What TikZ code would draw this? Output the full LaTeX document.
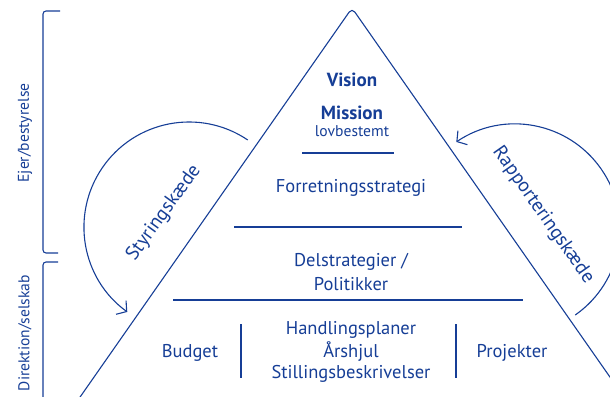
\documentclass[tikz,border=0pt]{standalone}
\usepackage{fontspec}
\setmainfont{PT Sans}
\usetikzlibrary{arrows.meta}
\definecolor{navy}{RGB}{22,62,150}
\tikzset{
  ln/.style={draw=navy, line width=1.1pt},
  txt/.style={text=navy, font=\fontsize{18.5}{20}\selectfont, inner sep=0pt},
  boldtxt/.style={text=navy, font=\fontsize{19}{21}\selectfont\bfseries, inner sep=0pt},
  sidetxt/.style={text=navy, font=\fontsize{15.6}{17}\selectfont, inner sep=0pt, rotate=90},
  arctxt/.style={text=navy, font=\fontsize{19.5}{21}\selectfont, inner sep=0pt},
  chaintip/.style={-{Straight Barb[length=7pt,width=17pt,line width=1.1pt]}}
}
\begin{document}
\begin{tikzpicture}[x=1pt,y=-1pt]
\useasboundingbox (0,0) rectangle (610,396);
\clip (0,0) rectangle (610,396);
% triangle
\coordinate (tl) at (78,400);
\coordinate (top) at (352,8);
\coordinate (tr) at (626,400);
\draw[ln, rounded corners=5pt] (tl) -- (top) -- (tr);
% horizontal lines
\coordinate (a1) at (302,153); \coordinate (a2) at (394,153);
\coordinate (b1) at (234,227); \coordinate (b2) at (462,227);
\coordinate (c1) at (173,300); \coordinate (c2) at (523,300);
\coordinate (v1a) at (241,324); \coordinate (v1b) at (241,378);
\coordinate (v2a) at (456,324); \coordinate (v2b) at (456,378);
\draw[ln] (a1) -- (a2);
\draw[ln] (b1) -- (b2);
\draw[ln] (c1) -- (c2);
\draw[ln] (v1a) -- (v1b);
\draw[ln] (v2a) -- (v2b);
% texts
\node[boldtxt] (vision) at (352,80) {Vision};
\node[boldtxt] (mission) at (352,113) {Mission};
\node[txt, font=\fontsize{15.6}{17}\selectfont] (lov) at (352,131) {lovbestemt};
\node[txt] (strat) at (351,188) {Forretningsstrategi};
\node[txt] (del) at (351,262) {Delstrategier /};
\node[txt] (pol) at (351,284) {Politikker};
\node[txt] (hand) at (351,330) {Handlingsplaner};
\node[txt] (aars) at (351,352) {Årshjul};
\node[txt] (still) at (351,374) {Stillingsbeskrivelser};
\node[txt] (budget) at (190,353) {Budget};
\node[txt] (proj) at (512,353) {Projekter};
% brackets
\coordinate (br1a) at (60,11); \coordinate (br1b) at (43,11);
\coordinate (br1c) at (43,253); \coordinate (br1d) at (58,253);
\coordinate (br2a) at (58,262); \coordinate (br2b) at (43,262);
\coordinate (br2c) at (43,400);
\draw[ln, rounded corners=3pt] (br1a) -- (br1b) -- (br1c) -- (br1d);
\draw[ln, rounded corners=3pt] (br2a) -- (br2b) -- (br2c);
\node[sidetxt] (ejer) at (25,133) {Ejer/bestyrelse};
\node[sidetxt] (dir) at (25,333) {Direktion/selskab};
% chains
\coordinate (lc) at (189,227);
\coordinate (rc) at (515,229);
\draw[ln, chaintip] (lc) ++(-56:105) arc[start angle=-56, end angle=-234, radius=105];
\draw[ln, chaintip] (rc) ++(55:105) arc[start angle=55, end angle=-124, radius=105];
\node[arctxt, rotate=54] (styr) at (164,213) {Styringskæde};
\node[arctxt, rotate=-55] (rap) at (543,215) {Rapporteringskæde};
\end{tikzpicture}
\end{document}
